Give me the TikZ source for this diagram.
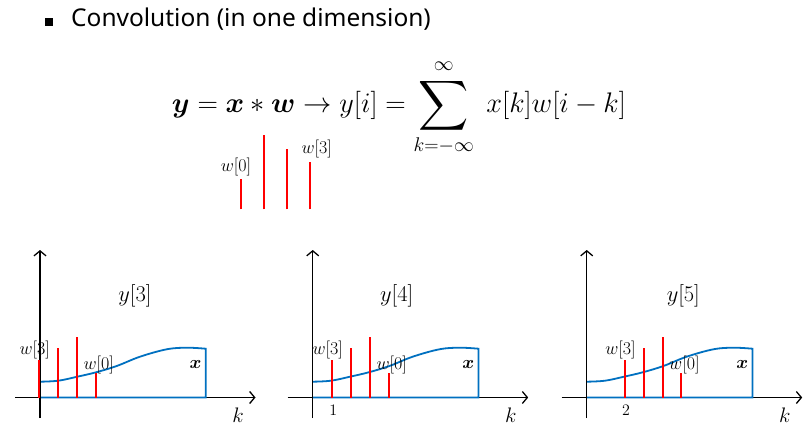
\RequirePackage{fix-cm}
\documentclass[tikz,border=0pt]{standalone}
\usepackage{amsmath,bm,graphicx}
\usepackage{fontspec}
\newfontfamily\titlefont{Noto Sans}
\usetikzlibrary{arrows.meta}
\definecolor{xblue}{RGB}{0,112,192}
\definecolor{wred}{RGB}{255,0,0}
\begin{document}
\begin{tikzpicture}[x=1pt,y=-1pt,
  axis/.style={line width=1.3pt,-{Straight Barb[length=5pt,width=12pt]}},
  sig/.style={xblue,line width=1.8pt},
  stem/.style={wred,line width=2pt},
  lab/.style={inner sep=0pt,font=\fontsize{18}{20}\selectfont},
  toplab/.style={inner sep=0pt,font=\fontsize{18}{20}\selectfont},
  ylab/.style={inner sep=0pt,font=\fontsize{22.5}{25}\selectfont},
  klab/.style={inner sep=0pt,font=\fontsize{21}{23}\selectfont},
  xlab/.style={inner sep=0pt,font=\fontsize{18}{20}\selectfont},
  ticklab/.style={inner sep=0pt,font=\fontsize{16}{18}\selectfont},
]
\useasboundingbox (0,0) rectangle (809,436);
% title
\node[fill=black,minimum size=8pt,inner sep=0pt] (bullet) at (48.5,22.5) {};
\node[anchor=base west,inner sep=0pt,font=\titlefont\fontsize{24.5}{28}\selectfont] (title) at (71,27) {Convolution (in one dimension)};
% equation
\node[anchor=base west,inner sep=0pt,font=\fontsize{28.3}{32}\selectfont] (eq) at (171.7,113)
  {$\displaystyle \boldsymbol{y}=\boldsymbol{x}*\boldsymbol{w}\rightarrow y[i]=\mathop{\vcenter{\hbox{\scalebox{1.4}{$\displaystyle\sum$}}}}\limits_{k=-\infty}^{\raisebox{3pt}{$\scriptstyle\infty$}}\; x[k]w[i-k]$};
% top kernel
\coordinate (t0) at (240.7,209.3);
\coordinate (t1) at (264,209.3);
\coordinate (t2) at (286.7,209.3);
\coordinate (t3) at (310,209.3);
\draw[stem] (t0) -- ++(0,-30);
\draw[stem] (t1) -- ++(0,-74);
\draw[stem] (t2) -- ++(0,-60);
\draw[stem] (t3) -- ++(0,-47);
\node[toplab] (tw0) at (236,166.7) {$w[0]$};
\node[toplab] (tw3) at (316.7,149) {$w[3]$};
% panels
\foreach \i/\ox/\sh/\yx/\tick in {3/40/-0.7/135/{},4/312.7/19.6/396.7/1,5/586.7/38.3/683.3/2}{
  \node[ylab] (y\i) at (\yx,296) {$y[\i]$};
  \begin{scope}[shift={(\ox,397.5)}]
    \coordinate (xs\i) at (-25,0);
    \coordinate (xe\i) at (215.5,0);
    \coordinate (ys\i) at (0,20.5);
    \coordinate (ye\i) at (0,-147.5);
    \draw[axis] (xs\i) -- (xe\i);
    \draw[sig] plot[smooth,tension=0.6] coordinates {(0,-15.8) (18.3,-16.8) (37.3,-20.8) (56,-25.2) (76.7,-31.5) (100,-40.8) (126.7,-48.2) (146.7,-49.8) (165.7,-48.8)} -- (165.7,0) -- (0,0);
    \node[lab] (w3\i) at (\sh-4.5,-48) {$w[3]$};
    \node[lab] (w0\i) at (\sh+3*18.8+3,-32.5) {$w[0]$};
    \draw[axis] (ys\i) -- (ye\i);
    \foreach \h [count=\j from 0] in {38,49.5,61,24.5}
      \draw[stem] (\sh+\j*18.8,0) -- ++(0,-\h);
    \node[xlab] (x\i) at (155.5,-33.5) {$\boldsymbol{x}$};
    \node[klab] (k\i) at (198,17.5) {$k$};
    \node[ticklab] (tk\i) at (\sh+1,13.2) {$\tick$};
  \end{scope}
}
\end{tikzpicture}
\end{document}
